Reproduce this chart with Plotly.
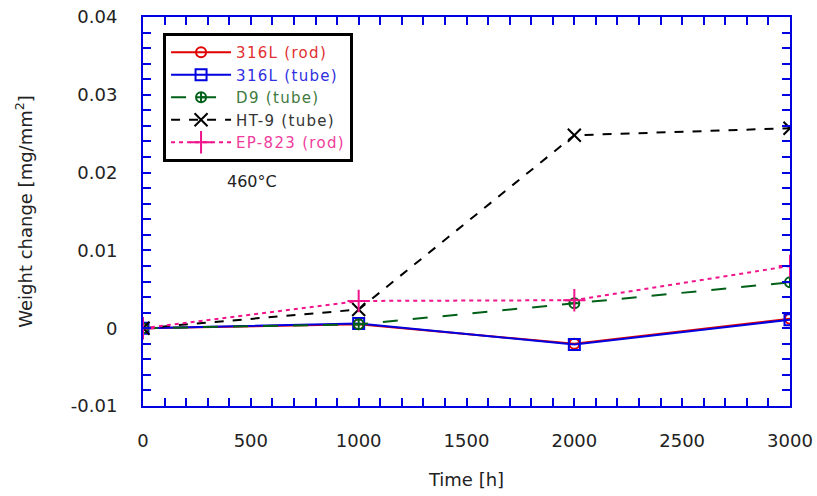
import plotly.graph_objects as go

time_h = [0, 1000, 2000, 3000]
rod_316L = [0.0, 0.0005, -0.0020, 0.0012]
tube_316L = [0.0, 0.0006, -0.0021, 0.0011]
tube_D9 = [0.0, 0.0005, 0.0032, 0.0059]
tube_HT9 = [0.0, 0.0024, 0.0248, 0.0257]
rod_EP823 = [0.0, 0.0035, 0.0036, 0.0080]

names = ["316L (rod)", "316L (tube)", "D9 (tube)", "HT-9 (tube)", "EP-823 (rod)"]
series = [rod_316L, tube_316L, tube_D9, tube_HT9, rod_EP823]
colors = ["#E00000", "#0000E0", "#006018", "#000000", "#F0148C"]
text_colors = ["#E03030", "#3030E0", "#407A40", "#333333", "#F03C9C"]
dashes = ["solid", "solid", "longdash", "dash", "4px,4px"]
symbols = ["circle-open", "square-open", "circle-cross-open", "x-thin-open", "cross-thin-open"]
sizes = [10, 11, 10, 13, 16]

FONT = "DejaVu Sans, Verdana, sans-serif"
TXT = "#222222"

fig = go.Figure()
for n, s, c, tc, d, sym, sz in zip(names, series, colors, text_colors, dashes, symbols, sizes):
    fig.add_trace(go.Scatter(
        x=time_h, y=s, mode="lines+markers",
        name=f"<span style='color:{tc};letter-spacing:1.3px'>{n}</span>",
        line=dict(color=c, width=2, dash=d),
        marker=dict(symbol=sym, size=sz, color=c, line=dict(color=c, width=2)),
    ))

fig.add_annotation(x=0.127, y=0.578, xref="paper", yref="paper", text="460°C",
                   showarrow=False, font=dict(size=16, color=TXT))

axis_common = dict(
    showgrid=False, zeroline=False, showline=True, linecolor="#0000E0", linewidth=2,
    mirror="ticks", ticks="inside", ticklen=8, tickwidth=2, tickcolor="#0000E0",
    tickfont=dict(size=18, color=TXT), ticklabeloverflow="allow",
)

fig.update_xaxes(range=[0, 3000], tickvals=[0, 500, 1000, 1500, 2000, 2500, 3000],
                 minor=dict(dtick=100, ticks="inside", ticklen=8, tickwidth=2, tickcolor="#0000E0"),
                 title=dict(text="Time [h]", font=dict(size=18, color=TXT), standoff=24),
                 ticklabelstandoff=17, **axis_common)
fig.update_yaxes(range=[-0.01, 0.04], tickvals=[-0.01, 0, 0.01, 0.02, 0.03, 0.04],
                 ticktext=["-0.01", "0", "0.01", "0.02", "0.03", "0.04"],
                 minor=dict(dtick=0.002, ticks="inside", ticklen=8, tickwidth=2, tickcolor="#0000E0"),
                 title=dict(text="Weight change [mg/mm<sup>2</sup>]", font=dict(size=18, color=TXT), standoff=34),
                 ticklabelstandoff=20, **axis_common)

fig.update_layout(
    width=817, height=496,
    margin=dict(l=143, r=27, t=17, b=90, autoexpand=False),
    paper_bgcolor="white", plot_bgcolor="white",
    font=dict(family=FONT),
    legend=dict(x=0.031, y=0.959, xanchor="left", yanchor="top",
                bordercolor="black", borderwidth=3, bgcolor="white",
                font=dict(size=15), itemwidth=60, tracegroupgap=0),
)

fig.write_html("out.html", config={"displayModeBar": False},
               post_script="document.body.style.margin='0';")
